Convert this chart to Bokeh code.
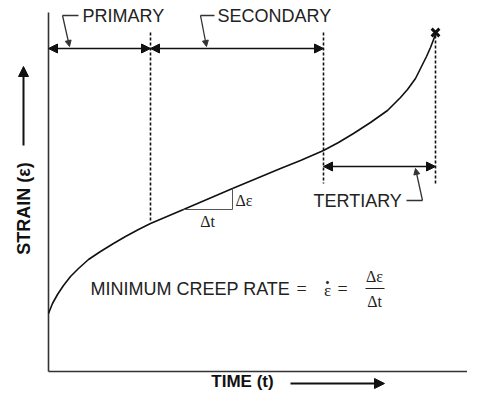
from bokeh.plotting import figure
from bokeh.models import Range1d, Arrow, NormalHead, Label
from bokeh.embed import file_html
from bokeh.resources import INLINE

# creep curve (time, strain) in diagram pixel units
curve_t = [48, 52, 57, 63, 70, 78, 88, 100, 113, 125, 138, 150, 183, 232, 280, 300, 323, 338, 353, 370, 387, 400, 407, 415, 420, 426, 430, 435]
curve_strain = [313, 303, 294, 285, 276, 268, 259, 251, 243, 236, 229, 223, 209, 188, 168, 160, 150, 142, 133, 122, 110, 97, 89, 78, 68, 56, 47, 34]

# stage boundaries (time)
stage_t = [150, 323, 435]
stage_top = [32, 32, 35]
stage_bottom = [222, 183, 183]

# dimension lines
dim_start = [48, 150, 323]
dim_end = [150, 323, 435]
dim_y = [48, 48, 166]

stage_labels = ["PRIMARY", "SECONDARY", "TERTIARY"]
label_x = [82, 217, 313]
label_y = [15, 15, 200]
# leaders: text end x, corner x, arrow tip
lead_xs = [[78, 62, 69], [214, 200, 206], [406, 422, 415]]
lead_ys = [[15, 15, 46], [15, 15, 46], [200, 200, 168]]

# slope triangle
tri_x = [183, 232, 232]
tri_y = [209, 209, 188]

rupture_t = [435]
rupture_strain = [32]

FONT = "Liberation Sans"
SERIF = "Liberation Serif"
C = "#111111"
T = "#222222"

p = figure(width=467, height=390, x_range=Range1d(0, 467), y_range=Range1d(390, 0),
           output_backend="svg", toolbar_location=None, x_axis_type=None, y_axis_type=None,
           min_border=0)
p.grid.visible = False
p.outline_line_color = None
p.background_fill_color = "white"

# axes
p.line([48, 48], [12, 371], line_color="#333333", line_width=1.6)
p.line([48, 483], [371, 371], line_color="#333333", line_width=1.6)

# curve
p.line(curve_t, curve_strain, line_color=C, line_width=1.6)

# dashed stage boundaries
for t, a, b in zip(stage_t, stage_top, stage_bottom):
    p.line([t, t], [a, b], line_color=C, line_width=1.6, line_dash="3 2")

# dimension arrows
for s, e, y in zip(dim_start, dim_end, dim_y):
    p.add_layout(Arrow(x_start=s, y_start=y, x_end=e, y_end=y, line_width=1.5, line_color=C,
                       start=NormalHead(size=9, fill_color=C, line_color=C),
                       end=NormalHead(size=9, fill_color=C, line_color=C)))

# leaders
for xs, ys in zip(lead_xs, lead_ys):
    p.line(xs[:2], ys[:2], line_color="#333333", line_width=1.3)
    p.add_layout(Arrow(x_start=xs[1], y_start=ys[1], x_end=xs[2], y_end=ys[2], line_width=1.3,
                       line_color="#333333", start=None,
                       end=NormalHead(size=6, fill_color="#333333", line_color="#333333")))

for txt, x, y in zip(stage_labels, label_x, label_y):
    p.add_layout(Label(x=x, y=y, text=txt, text_font=FONT, text_font_size="18px",
                       text_color=T, text_baseline="middle", text_align="left"))

# slope triangle
p.line(tri_x, tri_y, line_color="#555555", line_width=1.0)
p.add_layout(Label(x=235, y=200, text="Δε", text_font=SERIF, text_font_size="16px",
                   text_color=T, text_baseline="middle"))
p.add_layout(Label(x=207, y=221, text="Δt", text_font=SERIF, text_font_size="16px",
                   text_color=T, text_baseline="middle", text_align="center"))

# rupture marker
p.scatter(rupture_t, rupture_strain, marker="x", size=11, line_width=3, line_color=C)

# formula
p.add_layout(Label(x=90, y=288, text="MINIMUM CREEP RATE", text_font=FONT, text_font_size="18px",
                   text_color=T, text_baseline="middle"))
p.add_layout(Label(x=301, y=288, text="=", text_font=SERIF, text_font_size="18px",
                   text_color=T, text_baseline="middle", text_align="center"))
p.add_layout(Label(x=327, y=290, text="ε", text_font=SERIF, text_font_size="17px",
                   text_color=T, text_baseline="middle", text_align="center"))
p.scatter([327], [282], marker="circle", size=2.2, fill_color=T, line_color=T)
p.add_layout(Label(x=342, y=288, text="=", text_font=SERIF, text_font_size="18px",
                   text_color=T, text_baseline="middle", text_align="center"))
p.add_layout(Label(x=374, y=276, text="Δε", text_font=SERIF, text_font_size="16px",
                   text_color=T, text_baseline="middle", text_align="center"))
p.line([365, 384], [288, 288], line_color=T, line_width=1.0)
p.add_layout(Label(x=374, y=301, text="Δt", text_font=SERIF, text_font_size="16px",
                   text_color=T, text_baseline="middle", text_align="center"))

# axis titles with arrows
p.add_layout(Label(x=23, y=208, text="STRAIN (ε)", text_font=FONT, text_font_size="18px",
                   text_font_style="bold", text_color=C, angle=90, angle_units="deg",
                   text_baseline="middle", text_align="center"))
p.add_layout(Arrow(x_start=23, y_start=145, x_end=23, y_end=66, line_width=2, line_color=C,
                   start=None, end=NormalHead(size=10, fill_color=C, line_color=C)))
p.add_layout(Label(x=242, y=381, text="TIME (t)", text_font=FONT, text_font_size="17px",
                   text_font_style="bold", text_color=C,
                   text_baseline="middle", text_align="center"))
p.add_layout(Arrow(x_start=290, y_start=383, x_end=384, y_end=383, line_width=2, line_color=C,
                   start=None, end=NormalHead(size=10, fill_color=C, line_color=C)))

open("out.html", "w").write(file_html(p, INLINE))
